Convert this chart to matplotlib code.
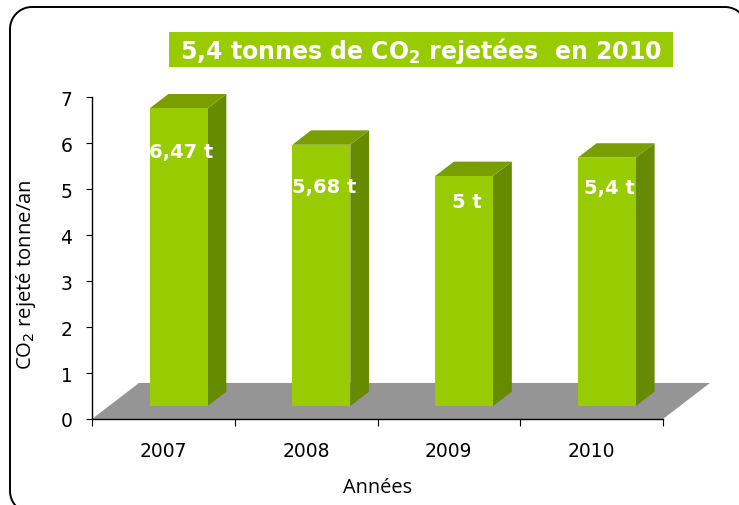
import numpy as np
import matplotlib.pyplot as plt
from matplotlib.patches import Polygon, Rectangle
from matplotlib.lines import Line2D

# data
years = ["2007", "2008", "2009", "2010"]
co2 = [6.47, 5.68, 5.0, 5.4]
labels = ["6,47 t", "5,68 t", "5 t", "5,4 t"]
label_drop = [0.93, 0.90, 0.55, 0.65]   # where Excel put each label, below bar top

FRONT = "#99cc00"
TOP = "#7a9e00"
SIDE = "#668a00"
FLOOR = "#959595"

W, H = 739, 506
fig = plt.figure(figsize=(W / 100, H / 100), dpi=100)


def rounded_frame(x0, y0, x1, y1, r):
    # pixel coords, y measured from the top of the picture
    t = np.linspace(0, np.pi / 2, 20)
    pts = []
    for cx, cy, a0 in [(x0 + r, y0 + r, np.pi), (x1 - r, y0 + r, 1.5 * np.pi),
                       (x1 - r, y1 - r, 0), (x0 + r, y1 - r, 0.5 * np.pi)]:
        a = a0 + t
        pts += list(zip(cx + r * np.cos(a), cy + r * np.sin(a)))
    pts.append(pts[0])
    xs = np.array([p[0] for p in pts]) / W
    ys = 1 - np.array([p[1] for p in pts]) / H
    return Line2D(xs, ys, transform=fig.transFigure, color="black", lw=1.4)


fig.add_artist(rounded_frame(10, 8, 747, 514, 22))

ax = fig.add_axes([92 / W, (H - 420) / H, 571 / W, 322 / H])
ax.set_xlim(0, len(years))
ax.set_ylim(0, 7)

# depth of the fake 3d floor, in data units
DX, DY = 0.329, 0.783
f0, f1 = 0.36, 0.76          # front / back of bars inside the floor depth
bw = 0.406

n = len(years)
ax.add_patch(Polygon([(0, 0), (n, 0), (n + DX, DY), (DX, DY)],
                     closed=True, fc=FLOOR, ec="none", clip_on=False, zorder=1))

for i, v in enumerate(co2):
    x0 = i + 0.5 - bw / 2 + f0 * DX - 0.012
    y0 = f0 * DY
    ddx = (f1 - f0) * DX
    ddy = (f1 - f0) * DY
    # side
    ax.add_patch(Polygon([(x0 + bw, y0), (x0 + bw + ddx, y0 + ddy),
                          (x0 + bw + ddx, y0 + v + ddy), (x0 + bw, y0 + v)],
                         closed=True, fc=SIDE, ec="none", clip_on=False, zorder=2))
    # top
    ax.add_patch(Polygon([(x0, y0 + v), (x0 + bw, y0 + v),
                          (x0 + bw + ddx, y0 + v + ddy), (x0 + ddx, y0 + v + ddy)],
                         closed=True, fc=TOP, ec="none", clip_on=False, zorder=2))
    # front
    ax.add_patch(Rectangle((x0, y0), bw, v, fc=FRONT, ec="none",
                           clip_on=False, zorder=3))
    ax.text(x0 + bw / 2 + 0.02, y0 + v - label_drop[i], labels[i],
            ha="center", va="center", color="white", fontsize=14,
            fontweight="bold", zorder=4)

for s in ["top", "right"]:
    ax.spines[s].set_visible(False)
for s in ["left", "bottom"]:
    ax.spines[s].set_linewidth(1.0)
    ax.spines[s].set_zorder(5)

ax.set_yticks(range(0, 8))
ax.tick_params(axis="y", direction="out", length=4, pad=10, labelsize=13.5)
ax.set_xticks(range(0, n + 1))
ax.set_xticklabels([])
ax.tick_params(axis="x", which="major", direction="out", length=5)
ax.set_xticks([i + 0.5 for i in range(n)], minor=True)
ax.set_xticklabels(years, minor=True)
ax.tick_params(axis="x", which="minor", length=0, pad=16, labelsize=13.5)

ax.set_xlabel("Années", fontsize=14.4, family="Open Sans", labelpad=12)
ax.set_ylabel("CO$_2$ rejeté tonne/an", fontsize=14.6, family="Open Sans", labelpad=11)
ax.yaxis.set_label_coords(-0.095, 0.45)

# title in green box
fig.text(421 / W, 1 - 51 / H, "5,4 tonnes de CO$_\\mathbf{2}$ rejetées  en 2010",
         ha="center", va="center", color="white", fontsize=17, fontweight="bold")
fig.patches.append(Rectangle((169 / W, 1 - 68 / H), 504 / W, 35 / H,
                             transform=fig.transFigure, fc=FRONT, ec="none", zorder=0))

fig.savefig("out.png", dpi=100)
